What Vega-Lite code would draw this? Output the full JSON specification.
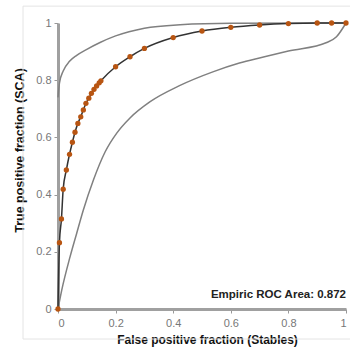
{
  "$schema": "https://vega.github.io/schema/vega-lite/v6.json",
  "width": 288,
  "height": 286,
  "autosize": {"type": "none"},
  "padding": {"left": 58, "top": 23, "right": 4, "bottom": 44},
  "background": "white",
  "config": {
    "view": {"stroke": null},
    "font": "Liberation Sans"
  },
  "datasets": {
    "pts": [
      {"x": 0, "y": 0}, {"x": 0.005, "y": 0.232}, {"x": 0.012, "y": 0.315},
      {"x": 0.018, "y": 0.419}, {"x": 0.029, "y": 0.486}, {"x": 0.04, "y": 0.541},
      {"x": 0.05, "y": 0.583}, {"x": 0.059, "y": 0.618}, {"x": 0.069, "y": 0.649},
      {"x": 0.079, "y": 0.672}, {"x": 0.088, "y": 0.696}, {"x": 0.097, "y": 0.719},
      {"x": 0.107, "y": 0.737}, {"x": 0.116, "y": 0.754}, {"x": 0.125, "y": 0.768},
      {"x": 0.134, "y": 0.78}, {"x": 0.143, "y": 0.791}, {"x": 0.149, "y": 0.798},
      {"x": 0.2, "y": 0.847}, {"x": 0.25, "y": 0.882}, {"x": 0.3, "y": 0.911},
      {"x": 0.4, "y": 0.949}, {"x": 0.5, "y": 0.972}, {"x": 0.6, "y": 0.985},
      {"x": 0.7, "y": 0.993}, {"x": 0.8, "y": 0.998}, {"x": 0.9, "y": 1.0},
      {"x": 0.95, "y": 1.0}, {"x": 1.0, "y": 1.0}
    ],
    "upper": [
      {"x": 0, "y": 0.74}, {"x": 0.005, "y": 0.79},
      {"x": 0.018, "y": 0.832}, {"x": 0.04, "y": 0.866}, {"x": 0.065, "y": 0.887},
      {"x": 0.1, "y": 0.908}, {"x": 0.146, "y": 0.932}, {"x": 0.2, "y": 0.955},
      {"x": 0.3, "y": 0.982}, {"x": 0.424, "y": 0.994}, {"x": 0.6, "y": 0.999},
      {"x": 1.0, "y": 1.0}
    ],
    "lower": [
      {"x": 0, "y": 0}, {"x": 0.013, "y": 0.066}, {"x": 0.042, "y": 0.183},
      {"x": 0.065, "y": 0.265}, {"x": 0.088, "y": 0.346}, {"x": 0.123, "y": 0.451},
      {"x": 0.163, "y": 0.548}, {"x": 0.204, "y": 0.615}, {"x": 0.25, "y": 0.668},
      {"x": 0.32, "y": 0.725}, {"x": 0.42, "y": 0.78}, {"x": 0.54, "y": 0.83},
      {"x": 0.63, "y": 0.86}, {"x": 0.71, "y": 0.88}, {"x": 0.8, "y": 0.902},
      {"x": 0.933, "y": 0.932}, {"x": 0.967, "y": 0.952}, {"x": 1.0, "y": 1.0}
    ],
    "frame": [{"x1": -0.1215, "x2": 1.02, "y1": -0.105, "y2": 1.059}],
    "note": [{"x": 1.0, "y": 0.03, "t": "Empiric ROC Area: 0.872"}]
  },
  "layer": [
    {
      "data": {"name": "frame"},
      "mark": {"type": "rect", "fill": null, "stroke": "#e4e4e4", "strokeWidth": 1, "clip": false},
      "encoding": {
        "x": {"field": "x1", "type": "quantitative", "scale": {"domain": [0, 1], "nice": false, "zero": false}},
        "x2": {"field": "x2"},
        "y": {"field": "y1", "type": "quantitative", "scale": {"domain": [0, 1], "nice": false, "zero": false}},
        "y2": {"field": "y2"}
      }
    },
    {
      "data": {"name": "upper"},
      "mark": {"type": "line", "color": "#808080", "strokeWidth": 1.5, "interpolate": "monotone"},
      "encoding": {
        "x": {"field": "x", "type": "quantitative"},
        "y": {"field": "y", "type": "quantitative"}
      }
    },
    {
      "data": {"name": "lower"},
      "mark": {"type": "line", "color": "#808080", "strokeWidth": 1.5, "interpolate": "monotone"},
      "encoding": {
        "x": {"field": "x", "type": "quantitative"},
        "y": {"field": "y", "type": "quantitative"}
      }
    },
    {
      "data": {"name": "pts"},
      "mark": {"type": "line", "color": "#333333", "strokeWidth": 1.5, "interpolate": "monotone"},
      "encoding": {
        "x": {"field": "x", "type": "quantitative"},
        "y": {"field": "y", "type": "quantitative"}
      }
    },
    {
      "data": {"name": "pts"},
      "mark": {"type": "point", "filled": true, "color": "#b85512", "size": 28, "opacity": 1},
      "encoding": {
        "x": {
          "field": "x", "type": "quantitative",
          "scale": {"domain": [0, 1], "nice": false},
          "axis": {
            "values": [0, 0.2, 0.4, 0.6, 0.8, 1],
            "title": "False positive fraction (Stables)",
            "titleFontSize": 12, "titleFontWeight": "bold", "titleColor": "#111",
            "titlePadding": 6, "titleX": 149,
            "labelFontSize": 11, "labelColor": "#777",
            "labelPadding": 4, "tickSize": 4, "tickColor": "#999",
            "domainColor": "#a0a0a0", "domainWidth": 3,
            "grid": false,
            "labelExpr": "datum.value == 0 ? '0' : datum.value == 1 ? '1' : format(datum.value, '.1f')"
          }
        },
        "y": {
          "field": "y", "type": "quantitative",
          "scale": {"domain": [0, 1], "nice": false},
          "axis": {
            "values": [0, 0.2, 0.4, 0.6, 0.8, 1],
            "title": "True positive fraction (SCA)",
            "titleFontSize": 12.5, "titleFontWeight": "bold", "titleColor": "#111",
            "titlePadding": 9, "titleY": 127,
            "labelFontSize": 11, "labelColor": "#777",
            "labelPadding": 3, "tickSize": 4, "tickColor": "#999",
            "domainColor": "#a0a0a0", "domainWidth": 3,
            "grid": false,
            "labelExpr": "datum.value == 0 ? '0' : datum.value == 1 ? '1' : format(datum.value, '.1f')"
          }
        }
      }
    },
    {
      "data": {"name": "note"},
      "mark": {"type": "text", "align": "right", "baseline": "bottom", "fontSize": 11.5, "fontWeight": "bold", "color": "#222"},
      "encoding": {
        "x": {"field": "x", "type": "quantitative"},
        "y": {"field": "y", "type": "quantitative"},
        "text": {"field": "t"}
      }
    }
  ]
}
